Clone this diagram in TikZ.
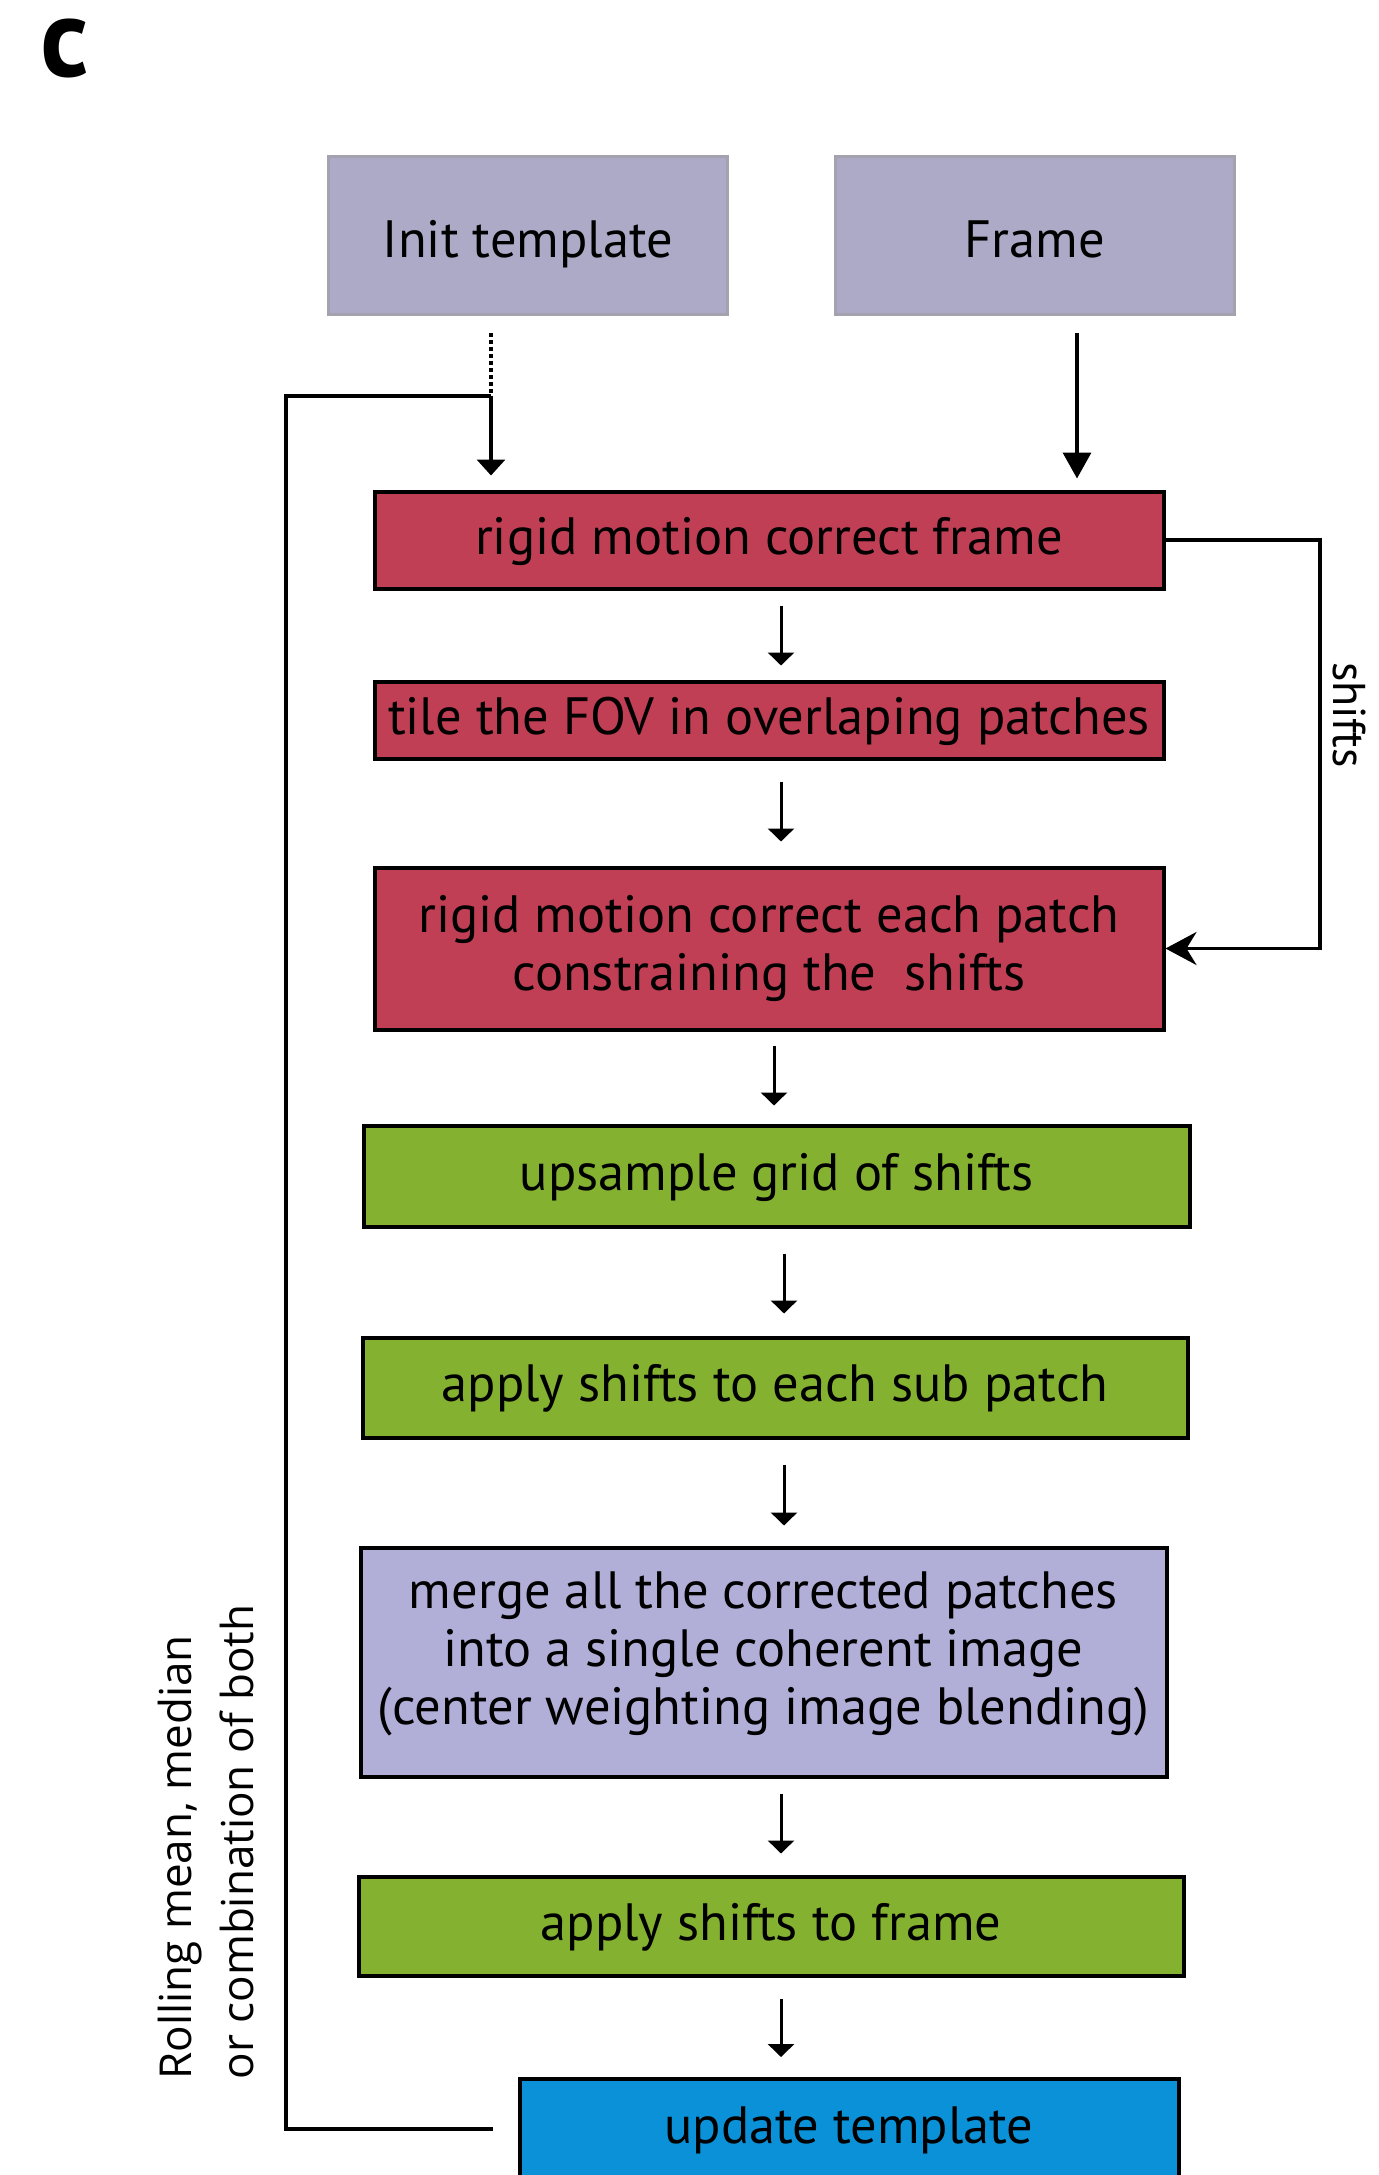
\documentclass[tikz,border=0pt]{standalone}
\usepackage{fontspec}
\setmainfont{PT Sans}
\newfontfamily\sidefont{Open Sans}
\usetikzlibrary{arrows.meta}

\definecolor{lav}{HTML}{ADAAC7}
\definecolor{lavedge}{HTML}{A3A2AE}
\definecolor{lavmerge}{HTML}{B1AFD8}
\definecolor{rigidred}{HTML}{C13F55}
\definecolor{shiftgreen}{HTML}{84B130}
\definecolor{tplblue}{HTML}{0A91D8}

\begin{document}
\begin{tikzpicture}[x=1pt,y=-1pt,
  boxtxt/.style={font=\fontsize{52.5}{58}\selectfont, align=center, inner sep=0pt},
  oneline/.style={text height=40pt, text depth=12pt},
  inbox/.style={boxtxt, fill=lav, draw=lavedge, line width=3pt,
                minimum width=399, minimum height=158, text height=44pt, text depth=0pt},
  stepbox/.style={boxtxt, draw=black, line width=4pt},
  flow/.style={line width=3pt, -{Triangle[width=26pt,length=13pt]}},
  feed/.style={line width=3.5pt},
  dotline/.style={line width=3.5pt, dash pattern=on 3.5pt off 3.5pt},
  bigarr/.style={line width=3.5pt, -{Triangle[width=28pt,length=16pt]}},
  bigarrlong/.style={line width=3.5pt, -{Triangle[width=28pt,length=26pt]}},
  shiftarr/.style={line width=3.5pt, -{Stealth[width=33pt,length=31pt,inset=10pt]}}]

\fill[white] (0,0) rectangle (1378,2175);
\clip (0,0) rectangle (1378,2175);

% panel letter
\node[font=\fontsize{112}{112}\selectfont\bfseries, inner sep=0pt] (panel) at (65,49) {c};

% inputs
\node[inbox] (init)  at (528,235.5)  {Init template};
\node[inbox] (frame) at (1035,235.5) {Frame};

% processing steps
\node[stepbox, oneline, fill=rigidred, minimum width=789, minimum height=97]  (b1) at (769,540)    {rigid motion correct frame};
\node[stepbox, oneline, fill=rigidred, minimum width=789, minimum height=77]  (b2) at (769,720)    {tile the FOV in overlaping patches};
\node[stepbox, fill=rigidred, minimum width=789, minimum height=162] (b3) at (769,948.5)  {rigid motion correct each patch\\constraining the~~shifts};
\node[stepbox, oneline, fill=shiftgreen, minimum width=826, minimum height=101] (b4) at (776.5,1176) {upsample grid of shifts};
\node[stepbox, oneline, fill=shiftgreen, minimum width=825, minimum height=100] (b5) at (775,1387.5) {apply shifts to each sub patch};
\node[stepbox, fill=lavmerge, minimum width=806, minimum height=229]  (b6) at (763.5,1662)
  {merge all the corrected patches\\into a single coherent image\\(center weighting image blending)\rule[-27pt]{0pt}{0pt}};
\node[stepbox, oneline, fill=shiftgreen, minimum width=825, minimum height=99]  (b7) at (771,1926)  {apply shifts to frame};
\node[stepbox, oneline, fill=tplblue, minimum width=659, minimum height=100]    (b8) at (849,2129)  {update template};

% side labels
\node[font=\fontsize{46}{58}\selectfont, rotate=-90, inner sep=0pt] (shiftlbl) at (1349,715) {shifts};
\node[font=\sidefont\fontsize{44}{62}\selectfont, rotate=90, align=left, inner sep=0pt] (rolllbl) at (206,1842)
  {Rolling mean, median\\or combination of both};

% reference x positions of the connectors
\coordinate (join) at (491,396);
\coordinate (lx)   at (286,396);
\coordinate (fx)   at (1077,0);
\coordinate (sx)   at (1320,0);
\coordinate (x1)   at (781,0);
\coordinate (x3)   at (774,0);
\coordinate (x4)   at (784,0);

% template and frame inputs
\draw[dotline, shorten <=17pt] (init.south -| join) -- (join);
\draw[bigarr, shorten >=14pt] (join) -- (b1.north -| join);
\draw[bigarrlong, shorten <=17pt, shorten >=11pt] (frame.south -| fx) -- (b1.north -| fx);

% template update loop
\draw[feed] ([xshift=-25pt]b8.west) -- (b8.west -| lx) -- (lx) -- (join);

% shifts from the rigid step constrain the patch step
\draw[shiftarr] (b1.east) -- (b1.east -| sx) -- (b3.east -| sx) -- (b3.east);

% step to step
\draw[flow, shorten <=15pt, shorten >=14pt] (b1.south -| x1) -- (b2.north -| x1);
\draw[flow, shorten <=21pt, shorten >=24pt] (b2.south -| x1) -- (b3.north -| x1);
\draw[flow, shorten <=14pt, shorten >=18pt] (b3.south -| x3) -- (b4.north -| x3);
\draw[flow, shorten <=25pt, shorten >=22pt] (b4.south -| x4) -- (b5.north -| x4);
\draw[flow, shorten <=25pt, shorten >=20pt] (b5.south -| x4) -- (b6.north -| x4);
\draw[flow, shorten <=15pt, shorten >=21pt] (b6.south -| x1) -- (b7.north -| x1);
\draw[flow, shorten <=21pt, shorten >=20pt] (b7.south -| x1) -- (b8.north -| x1);

\end{tikzpicture}
\end{document}
